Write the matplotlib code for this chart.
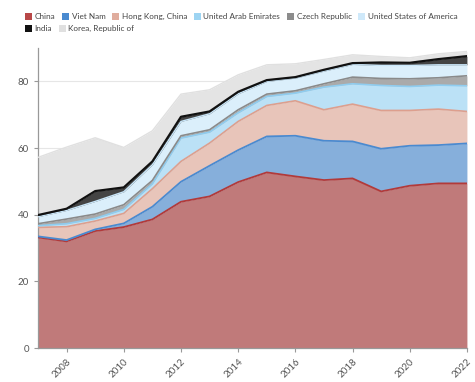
import numpy as np
import matplotlib
matplotlib.use("Agg")
import matplotlib.pyplot as plt
from matplotlib.patches import Patch

plt.rcParams["font.family"] = ["Lato", "DejaVu Sans"]

years = list(range(2007, 2023))

# share of each exporter, stacked bottom to top
china = [33.2, 32.0, 35.1, 36.3, 38.6, 43.9, 45.5, 49.8, 52.7, 51.5, 50.4, 50.9, 47.0, 48.7, 49.4, 49.4]
viet_nam = [0.3, 0.4, 0.5, 1.1, 3.8, 6.0, 9.2, 9.6, 10.8, 12.2, 11.8, 11.1, 12.8, 12.0, 11.5, 12.0]
hong_kong = [2.7, 4.0, 2.5, 3.0, 5.4, 6.1, 6.8, 8.6, 9.3, 10.5, 9.3, 11.2, 11.5, 10.6, 10.8, 9.6]
uae = [0.5, 0.9, 0.8, 1.2, 1.5, 7.0, 3.3, 2.6, 2.7, 2.3, 6.8, 6.1, 7.5, 7.2, 7.2, 7.7]
czech = [0.6, 1.4, 1.3, 1.4, 1.0, 0.7, 0.7, 0.9, 0.7, 0.7, 1.0, 2.0, 2.1, 2.3, 2.2, 3.0]
usa = [2.1, 2.6, 3.8, 3.9, 4.7, 4.3, 4.8, 4.8, 3.8, 3.8, 3.8, 3.8, 3.9, 4.0, 3.9, 3.3]
india = [0.5, 0.5, 3.1, 1.3, 1.0, 1.4, 0.7, 0.6, 0.4, 0.3, 0.4, 0.4, 0.9, 0.8, 1.7, 2.6]
korea = [17.3, 18.5, 16.0, 12.0, 9.2, 6.8, 6.5, 5.1, 4.6, 4.0, 3.1, 2.5, 1.8, 1.5, 1.6, 1.4]

series = [
    ("China", china, "#c07a7a", "#b23a3a", 1.3),
    ("Viet Nam", viet_nam, "#86afdb", "#4a8ad0", 1.3),
    ("Hong Kong, China", hong_kong, "#e8c5ba", "#dd9f8e", 1.2),
    ("United Arab Emirates", uae, "#bbe1f6", "#8fcdf0", 1.2),
    ("Czech Republic", czech, "#aaaaaa", "#8a8a8a", 1.2),
    ("United States of America", usa, "#dbeffb", "#c9e7fa", 1.0),
    ("India", india, "#444444", "#111111", 1.6),
    ("Korea, Republic of", korea, "#e4e4e4", "#e0e0e0", 1.0),
]
legend_colors = ["#b84848", "#4a8ad0", "#e0ad9e", "#9dd4f2", "#8c8c8c",
                 "#cfe9fa", "#111111", "#e0e0e0"]

fig = plt.figure(figsize=(4.75, 3.82), dpi=100)
ax = fig.add_axes([0.08, 0.089, 0.903, 0.785])

x = np.array(years)
base = np.zeros(len(years))
tops = []
for name, vals, fill, edge, lw in series:
    top = base + np.array(vals)
    ax.fill_between(x, base, top, color=fill, lw=0, zorder=2)
    tops.append((top, edge, lw))
    base = top
for top, edge, lw in tops:
    ax.plot(x, top, color=edge, lw=lw, zorder=3, solid_joinstyle="round")

ax.set_xlim(2007, 2022)
ax.set_ylim(0, 90)
ax.set_yticks([0, 20, 40, 60, 80])
ax.set_xticks(range(2008, 2023, 2))
ax.grid(axis="y", color="#e6e6e6", lw=0.8, zorder=0)
ax.set_axisbelow(True)
for s in ("top", "right"):
    ax.spines[s].set_visible(False)
for s in ("left", "bottom"):
    ax.spines[s].set_color("#999999")
    ax.spines[s].set_linewidth(0.9)
ax.tick_params(axis="both", colors="#999999", labelcolor="#555555",
               labelsize=7, length=3, width=0.8)
plt.setp(ax.get_xticklabels(), rotation=45, ha="right", rotation_mode="anchor")

names = [s[0] for s in series]
handles = [Patch(facecolor=c, edgecolor="none") for c in legend_colors]
kw = dict(frameon=False, fontsize=5.9, handlelength=0.9, handleheight=1.0,
          handletextpad=0.3, columnspacing=0.8, labelcolor="#444444",
          borderaxespad=0)
fig.legend(handles[:6], names[:6], ncol=6, loc="upper left",
           bbox_to_anchor=(0.045, 0.975), **kw)
fig.legend(handles[6:], names[6:], ncol=2, loc="upper left",
           bbox_to_anchor=(0.045, 0.944), **kw)

fig.savefig("out.png", dpi=100)
